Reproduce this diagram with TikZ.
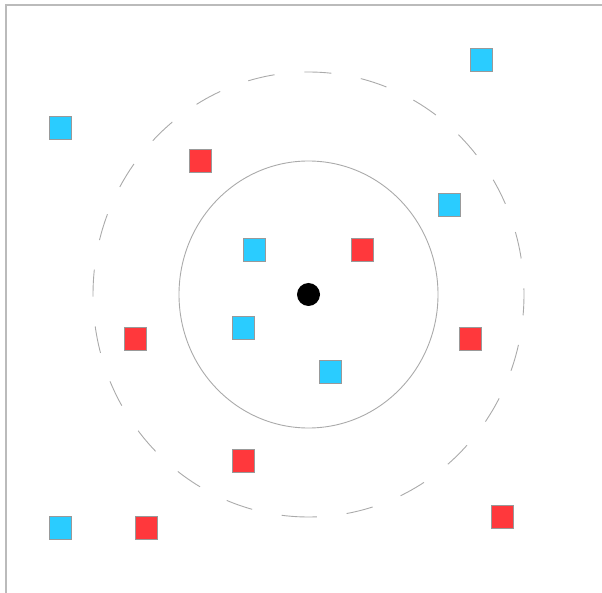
\documentclass[tikz,border=0pt]{standalone}
\definecolor{sqblue}{HTML}{2ACCFF}
\definecolor{sqred}{HTML}{FF383C}
\definecolor{sqedge}{HTML}{999999}
\definecolor{ringgray}{HTML}{AAAAAA}
\definecolor{framegray}{HTML}{BBBBBB}
\tikzset{
  bluesq/.style={draw=sqedge, line width=0.6pt, fill=sqblue, minimum width=22pt, minimum height=23pt, inner sep=0pt},
  redsq/.style={draw=sqedge, line width=0.6pt, fill=sqred, minimum width=22pt, minimum height=23pt, inner sep=0pt},
  ring/.style={draw=ringgray, line width=0.9pt},
}
\begin{document}
\begin{tikzpicture}[x=1pt, y=-1pt]
\useasboundingbox (0,0) rectangle (602,593);
% frame
\draw[framegray, line width=1.2pt] (6,593) -- (6,5) -- (602,5);
% rings
\draw[ring] (308.5,294.5) ellipse [x radius=129.5, y radius=133.5];
\draw[ring, dash pattern=on 27pt off 30pt] (308.5,517) arc[start angle=90, end angle=450, x radius=215.5, y radius=222.5];
% centre
\node[circle, fill=black, minimum size=23pt, inner sep=0pt] (c) at (308.5,294.5) {};
% blue squares
\node[bluesq] (b1) at (481,60) {};
\node[bluesq] (b2) at (60,127.5) {};
\node[bluesq] (b3) at (449,205) {};
\node[bluesq] (b4) at (254,249.5) {};
\node[bluesq] (b5) at (243,327.5) {};
\node[bluesq] (b6) at (330,372) {};
\node[bluesq] (b7) at (60,528) {};
% red squares
\node[redsq] (r1) at (200,160.5) {};
\node[redsq] (r2) at (362,249.5) {};
\node[redsq] (r3) at (135,339) {};
\node[redsq] (r4) at (470,339) {};
\node[redsq] (r5) at (243,461) {};
\node[redsq] (r6) at (146,528) {};
\node[redsq] (r7) at (502,517) {};
\end{tikzpicture}
\end{document}
